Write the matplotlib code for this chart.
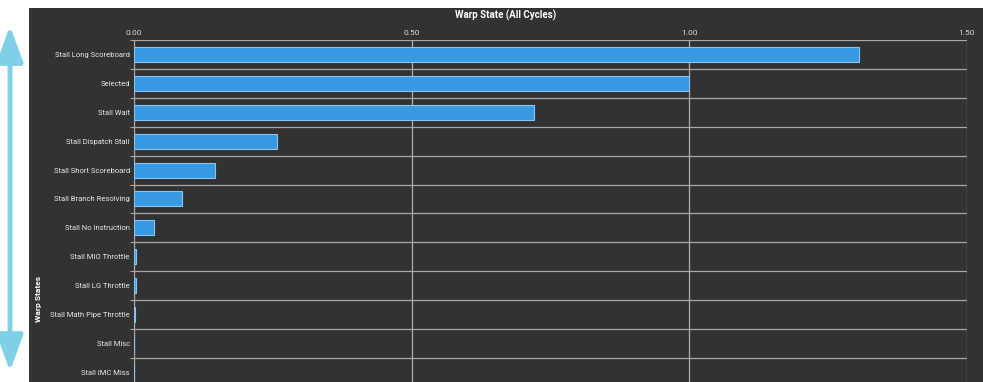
import matplotlib.pyplot as plt
from matplotlib.patches import FancyArrowPatch, Rectangle

states = ['Stall Long Scoreboard', 'Selected', 'Stall Wait', 'Stall Dispatch Stall',
          'Stall Short Scoreboard', 'Stall Branch Resolving', 'Stall No Instruction',
          'Stall MIO Throttle', 'Stall LG Throttle', 'Stall Math Pipe Throttle',
          'Stall Misc', 'Stall IMC Miss']
values = [1.305, 1.0, 0.72, 0.258, 0.146, 0.086, 0.036, 0.004, 0.003, 0.001, 0.0, 0.0]
x_ticks = [0.0, 0.5, 1.0, 1.5]

plt.rcParams['font.family'] = ['Roboto', 'DejaVu Sans']

W, H = 983, 382
fig = plt.figure(figsize=(W / 100, H / 100), dpi=100)
fig.patch.set_facecolor('white')

# background layer: dark panel and the cyan arrow
bg = fig.add_axes([0, 0, 1, 1], zorder=-1)
bg.set_xlim(0, W)
bg.set_ylim(H, 0)
bg.axis('off')
bg.add_patch(Rectangle((29, 8), W - 29, H - 8, facecolor='#323232', edgecolor='none'))
bg.add_patch(FancyArrowPatch((10, 23), (10, 374), arrowstyle='<|-|>,head_length=11,head_width=4',
                             color='#7fd0e6', linewidth=3.5, mutation_scale=2.0))

# plot area from x=134..967, top at y=40, rows 28.9 px
row_h = 28.9
top = 40
bottom = top + row_h * len(states)
ax = fig.add_axes([134 / W, 1 - bottom / H, (967 - 134) / W, (bottom - top) / H])
ax.set_facecolor('none')

y = list(range(len(states)))
ax.barh(y, values, height=0.52, color='#3799e2', edgecolor='#8cc4ee', linewidth=0.8, zorder=3)
ax.set_ylim(len(states) - 0.5, -0.5)
ax.set_xlim(0, 1.5)

ax.set_xticks(x_ticks)
ax.set_xticklabels([f'{t:.2f}' for t in x_ticks])
ax.xaxis.tick_top()
ax.tick_params(axis='x', length=0, pad=3, labelsize=6, labelcolor='#d8d8d8')
ax.set_yticks(y)
ax.set_yticklabels(states)
ax.tick_params(axis='y', length=0, pad=3, labelsize=5.5, labelcolor='#e8e8e8')
bounds = [i + 0.5 for i in range(-1, len(states))]
ax.set_yticks(bounds, minor=True)
ax.tick_params(axis='y', which='minor', length=3, color='#aaaaaa', width=0.8)

for t in x_ticks:
    ax.axvline(t, color='#b0b0b0', linewidth=0.9, zorder=1)
for b in bounds:
    ax.axhline(b, color='#a8a8a8', linewidth=0.9, zorder=1)
for s in ax.spines.values():
    s.set_visible(False)

fig.text(506 / W, 1 - 15 / H, 'Warp State (All Cycles)', ha='center', va='center',
         fontsize=7, color='white', fontweight='bold')
fig.text(38 / W, 1 - 299 / H, 'Warp States', rotation=90, ha='center', va='center',
         fontsize=6, color='white', fontweight='bold')

fig.savefig('out.png', dpi=100)
